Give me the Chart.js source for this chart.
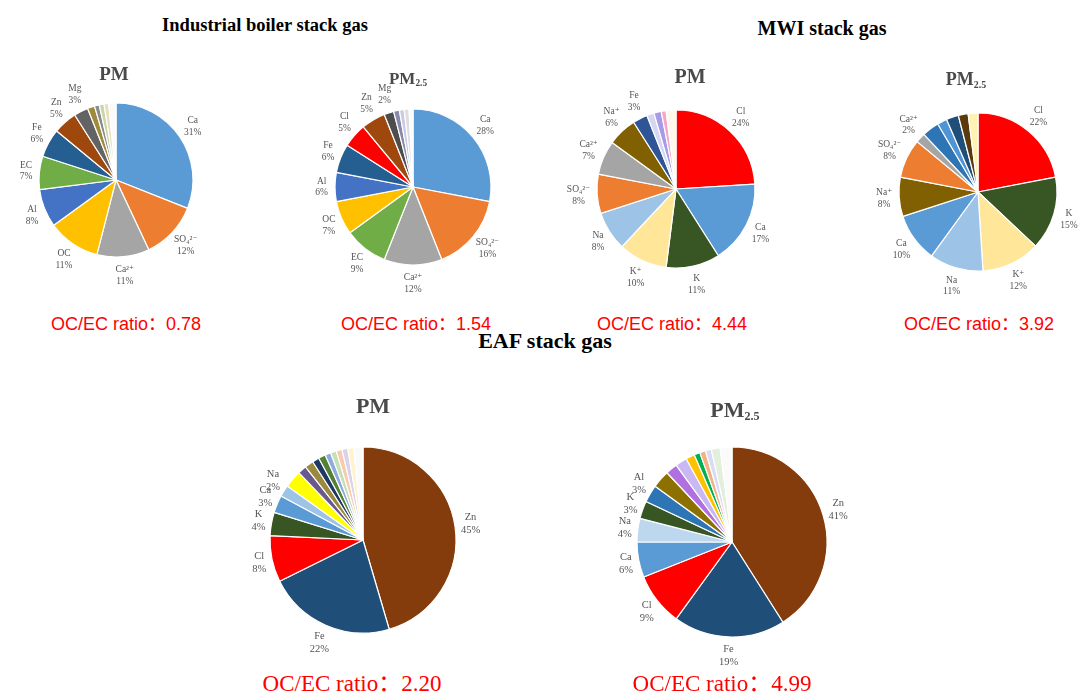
<!DOCTYPE html>
<html>
<head>
<meta charset="utf-8">
<script src="https://cdn.jsdelivr.net/npm/chart.js@4.4.1/dist/chart.umd.min.js"></script>
<style>
    html, body { margin: 0; padding: 0; background: #fff; overflow: hidden; }
    #board { position: relative; width: 1081px; height: 693px; }
    #board canvas { position: absolute; }
    .txt { position: absolute; transform: translate(-50%, -50%); white-space: nowrap; line-height: 1; }
    .group { font-family: "Liberation Serif", serif; font-weight: bold; color: #000; }
    .sub { font-family: "Liberation Serif", serif; font-weight: bold; color: #4a4a4a; }
    .sub sub { font-size: 55%; vertical-align: -0.25em; }
    .ratio { color: #ff0000; font-family: "Liberation Sans", "Noto Sans CJK SC", sans-serif; }
    .ratio.big { font-family: "Liberation Serif", "Noto Sans CJK SC", serif; }
</style>
</head>
<body>
<div id="board"></div>
<script>
// ---- данные (проценты с картинки) ----
// Industrial boiler, PM
const boilerPmLabels = ['Ca', 'SO₄²⁻', 'Ca²⁺', 'OC', 'Al', 'EC', 'Fe', 'Zn', 'Mg', '', '', '', '', ''];
const boilerPmValues = [31, 12, 11, 11, 8, 7, 6, 5, 3, 1.5, 1, 1, 1, 1.5];
// Industrial boiler, PM2.5
const boilerPm25Labels = ['Ca', 'SO₄²⁻', 'Ca²⁺', 'EC', 'OC', 'Al', 'Fe', 'Cl', 'Zn', 'Mg', '', '', '', ''];
const boilerPm25Values = [28, 16, 12, 9, 7, 6, 6, 5, 5, 2, 1.2, 1, 1, 0.8];
// MWI, PM
const mwiPmLabels = ['Cl', 'Ca', 'K', 'K⁺', 'Na', 'SO₄²⁻', 'Ca²⁺', 'Na⁺', 'Fe', '', '', '', ''];
const mwiPmValues = [24, 17, 11, 10, 8, 8, 7, 6, 3, 1.5, 1.5, 1, 2];
// MWI, PM2.5
const mwiPm25Labels = ['Cl', 'K', 'K⁺', 'Na', 'Ca', 'Na⁺', 'SO₄²⁻', 'Ca²⁺', '', '', '', '', ''];
const mwiPm25Values = [22, 15, 12, 11, 10, 8, 8, 2, 3.5, 2, 2.5, 2, 2];
// EAF, PM
const eafPmLabels = ['Zn', 'Fe', 'Cl', 'K', 'Ca', 'Na', '', '', '', '', '', '', '', '', '', '', ''];
const eafPmValues = [45, 22, 8, 4, 3, 2, 3, 1.5, 1.5, 1.2, 1.2, 1, 1, 1, 1, 1, 1.6];
// EAF, PM2.5
const eafPm25Labels = ['Zn', 'Fe', 'Cl', 'Ca', 'Na', 'K', 'Al', '', '', '', '', '', '', '', '', ''];
const eafPm25Values = [41, 19, 9, 6, 4, 3, 3, 3, 2, 2, 1.5, 1, 1, 1, 1.5, 2];

const ocEcRatios = ['0.78', '1.54', '4.44', '3.92', '2.20', '4.99'];

// ---- цвета ----
const boilerPmColors = ['#5b9bd5', '#ed7d31', '#a5a5a5', '#ffc000', '#4472c4', '#70ad47', '#255e91', '#9e480e', '#636363', '#a08a3c', '#8c8c8c', '#c9d6a8', '#e6e0c0', '#fafafa'];
const boilerPm25Colors = ['#5b9bd5', '#ed7d31', '#a5a5a5', '#70ad47', '#ffc000', '#4472c4', '#255e91', '#ff0000', '#9e480e', '#4d4d4d', '#8a8aa8', '#c9c9e8', '#dedede', '#fafafa'];
const mwiPmColors = ['#ff0000', '#5b9bd5', '#375623', '#ffe699', '#9dc3e6', '#ed7d31', '#a5a5a5', '#806000', '#2f5597', '#d6d6f2', '#a69be6', '#f4a6c8', '#fff8ea'];
const mwiPm25Colors = ['#ff0000', '#375623', '#ffe699', '#9dc3e6', '#5b9bd5', '#806000', '#ed7d31', '#a5a5a5', '#2e75b6', '#4f94d4', '#1f4e79', '#5c3a0c', '#fff2b3'];
const eafPmColors = ['#843c0c', '#1f4e79', '#ff0000', '#375623', '#5b9bd5', '#9dc3e6', '#ffff00', '#6a5a8c', '#9c8a3c', '#203864', '#548235', '#8faadc', '#c5e0b4', '#f8cbad', '#d9d2e9', '#fff2cc', '#fafafa'];
const eafPm25Colors = ['#843c0c', '#1f4e79', '#ff0000', '#5b9bd5', '#bdd7ee', '#375623', '#2e75b6', '#8c7000', '#b070e0', '#c9b8f2', '#ffc000', '#00b050', '#f4b183', '#d6dcf5', '#e2efda', '#fafafa'];

// подписи секторов рисуем сами, снаружи круга
const sliceLabels = {
    id: 'sliceLabels',
    afterDatasetsDraw(chart, args, opts) {
        const ctx = chart.ctx;
        const meta = chart.getDatasetMeta(0);
        const names = chart.data.labels;
        const values = chart.data.datasets[0].data;
        const size = opts.size || 9;
        const lh = size * 1.25;
        ctx.save();
        ctx.font = size + 'px "Liberation Serif", "DejaVu Serif", serif';
        ctx.fillStyle = opts.color || '#555';
        ctx.textAlign = 'center';
        ctx.textBaseline = 'middle';
        meta.data.forEach((arc, i) => {
            if (!names[i]) {
                return;
            }
            const p = arc.getProps(['x', 'y', 'startAngle', 'endAngle', 'outerRadius'], true);
            const mid = (p.startAngle + p.endAngle) / 2;
            const lines = [names[i], values[i] + '%'];
            const w = Math.max(...lines.map(t => ctx.measureText(t).width));
            const h = lh * lines.length;
            const cos = Math.cos(mid);
            const sin = Math.sin(mid);
            const d = p.outerRadius + (opts.gap || 4);
            const bx = p.x + cos * d + cos * w / 2;
            const by = p.y + sin * d + sin * h / 2;
            lines.forEach((t, k) => {
                ctx.fillText(t, bx, by - h / 2 + lh * (k + 0.5));
            });
        });
        ctx.restore();
    }
};

class StackGasBoard {
    constructor() {
        this.board = document.getElementById('board');
        // описание всех шести кругов: центр, радиус, размер canvas
        this.pies = [
            { labels: boilerPmLabels, values: boilerPmValues, colors: boilerPmColors, cx: 116, cy: 180, r: 77, w: 232, h: 240, font: 9.5, gap: 7 },
            { labels: boilerPm25Labels, values: boilerPm25Values, colors: boilerPm25Colors, cx: 413, cy: 187, r: 78, w: 250, h: 240, font: 9.5, gap: 7 },
            { labels: mwiPmLabels, values: mwiPmValues, colors: mwiPmColors, cx: 676, cy: 189, r: 79, w: 250, h: 240, font: 9.5, gap: 7 },
            { labels: mwiPm25Labels, values: mwiPm25Values, colors: mwiPm25Colors, cx: 978, cy: 192, r: 79, w: 204, h: 240, font: 9.5, gap: 7 },
            { labels: eafPmLabels, values: eafPmValues, colors: eafPmColors, cx: 363, cy: 540, r: 93, w: 290, h: 260, font: 10.5, gap: 6 },
            { labels: eafPm25Labels, values: eafPm25Values, colors: eafPm25Colors, cx: 732, cy: 542, r: 95, w: 290, h: 260, font: 10.5, gap: 6 }
        ];
        this.pies.forEach(pie => this.drawPie(pie));
        this.drawTexts();
    }

    drawPie(pie) {
        const canvas = document.createElement('canvas');
        canvas.width = pie.w;
        canvas.height = pie.h;
        canvas.style.left = (pie.cx - pie.w / 2) + 'px';
        canvas.style.top = (pie.cy - pie.h / 2) + 'px';
        this.board.appendChild(canvas);

        new Chart(canvas.getContext('2d'), {
            type: 'pie',
            data: {
                labels: pie.labels,
                datasets: [{
                    data: pie.values,
                    backgroundColor: pie.colors,
                    borderColor: '#ffffff',
                    borderWidth: 1.2
                }]
            },
            options: {
                responsive: false,
                animation: false,
                radius: pie.r,
                layout: { padding: 0 },
                plugins: {
                    legend: { display: false },
                    tooltip: { enabled: false },
                    sliceLabels: { size: pie.font, color: '#555555', gap: pie.gap }
                }
            },
            plugins: [sliceLabels]
        });
    }

    addText(html, cls, x, y, size) {
        const el = document.createElement('div');
        el.className = 'txt ' + cls;
        el.innerHTML = html;
        el.style.left = x + 'px';
        el.style.top = y + 'px';
        el.style.fontSize = size + 'px';
        this.board.appendChild(el);
    }

    drawTexts() {
        this.addText('Industrial boiler stack gas', 'group', 265, 25, 18.5);
        this.addText('MWI stack gas', 'group', 822, 28, 20);
        this.addText('EAF stack gas', 'group', 545, 341, 22);

        this.addText('PM', 'sub', 114, 73, 19);
        this.addText('PM<sub>2.5</sub>', 'sub', 408, 79, 17);
        this.addText('PM', 'sub', 690, 76, 20);
        this.addText('PM<sub>2.5</sub>', 'sub', 966, 80, 18);
        this.addText('PM', 'sub', 373, 406, 22);
        this.addText('PM<sub>2.5</sub>', 'sub', 735, 411, 22);

        const spots = [[126, 324, 18, ''], [416, 324, 18, ''], [672, 324, 18, ''], [979, 324, 18, ''], [352, 683, 23, ' big'], [722, 683, 23, ' big']];
        spots.forEach((s, i) => {
            this.addText('OC/EC ratio：' + ocEcRatios[i], 'ratio' + s[3], s[0], s[1], s[2]);
        });
    }
}

new StackGasBoard();
</script>
</body>
</html>
